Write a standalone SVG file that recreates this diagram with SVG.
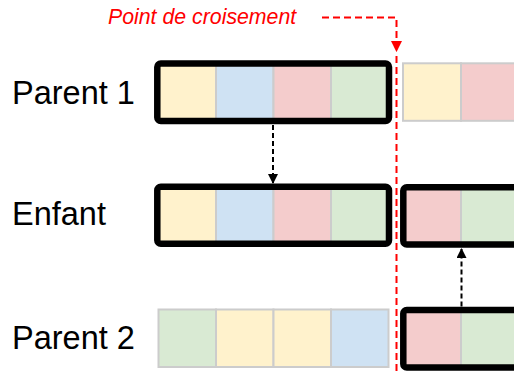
<svg xmlns="http://www.w3.org/2000/svg" width="514" height="372" viewBox="0 0 514 372">
  <defs>
    <style>
      .lbl { font-family: "Liberation Sans", Arial, sans-serif; font-size: 32.5px; fill: #000; }
      .cross { font-family: "Liberation Sans", Arial, sans-serif; font-size: 21.3px; font-style: italic; fill: #ff0000; }
      .cell { stroke: #cccccc; stroke-width: 2; }
      .y { fill: #fff2cc; }
      .b { fill: #cfe2f3; }
      .r { fill: #f4cccc; }
      .g { fill: #d9ead3; }
      .sel { fill: none; stroke: #000; stroke-width: 6.5; }
      .blk { fill: none; stroke: #000; stroke-width: 2; stroke-dasharray: 5 3; }
      .red { fill: none; stroke: #ff0000; stroke-width: 2; stroke-dasharray: 7 4; }
    </style>
    <marker id="ahb" viewBox="0 0 10 10" refX="9" refY="5" markerWidth="5" markerHeight="5" orient="auto" markerUnits="strokeWidth">
      <path d="M0,0 L10,5 L0,10 Z" fill="#000"/>
    </marker>
    <marker id="ahr" viewBox="0 0 10 10" refX="9" refY="5" markerWidth="5.5" markerHeight="5.5" orient="auto" markerUnits="strokeWidth">
      <path d="M0,0 L10,5 L0,10 Z" fill="#ff0000"/>
    </marker>
  </defs>
  <rect width="514" height="372" fill="#fff"/>

  <g id="labels">
    <text class="lbl" x="12" y="104">Parent 1</text>
    <text class="lbl" x="12" y="225">Enfant</text>
    <text class="lbl" x="12" y="349">Parent 2</text>
  </g>

  <g id="parent1-head">
    <rect class="cell y" x="158.5" y="63.3" width="57.5" height="57.5"/>
    <rect class="cell b" x="216" y="63.3" width="57.5" height="57.5"/>
    <rect class="cell r" x="273.5" y="63.3" width="57.5" height="57.5"/>
    <rect class="cell g" x="331" y="63.3" width="57.5" height="57.5"/>
    <rect class="sel" x="157.3" y="63.5" width="231.7" height="57.5" rx="3.5"/>
  </g>
  <g id="parent1-tail">
    <rect class="cell y" x="403" y="63.3" width="58" height="57.5"/>
    <rect class="cell r" x="461" y="63.3" width="58" height="57.5"/>
  </g>

  <g id="enfant-head">
    <rect class="cell y" x="158.5" y="186.8" width="57.5" height="57.5"/>
    <rect class="cell b" x="216" y="186.8" width="57.5" height="57.5"/>
    <rect class="cell r" x="273.5" y="186.8" width="57.5" height="57.5"/>
    <rect class="cell g" x="331" y="186.8" width="57.5" height="57.5"/>
    <rect class="sel" x="157.3" y="186.8" width="231.7" height="57" rx="3.5"/>
  </g>
  <g id="enfant-tail">
    <rect class="cell r" x="403" y="187" width="58" height="57.5"/>
    <rect class="cell g" x="461" y="187" width="58" height="57.5"/>
    <rect class="sel" x="403.3" y="187.3" width="140" height="57.2" rx="3.5"/>
  </g>

  <g id="parent2-head">
    <rect class="cell g" x="158.5" y="309.5" width="57.5" height="57.5"/>
    <rect class="cell y" x="216" y="309.5" width="57.5" height="57.5"/>
    <rect class="cell y" x="273.5" y="309.5" width="57.5" height="57.5"/>
    <rect class="cell b" x="331" y="309.5" width="57.5" height="57.5"/>
  </g>
  <g id="parent2-tail">
    <rect class="cell r" x="403" y="310" width="58" height="57.5"/>
    <rect class="cell g" x="461" y="310" width="58" height="57.5"/>
    <rect class="sel" x="403.3" y="310" width="140" height="57.5" rx="3.5"/>
  </g>

  <g id="crossover-label">
    <text class="cross" x="108" y="24">Point de croisement</text>
  </g>

  <g id="connectors">
    <path class="blk" d="M273,125 V183" marker-end="url(#ahb)"/>
    <path class="blk" d="M461.5,306.5 V249" marker-end="url(#ahb)"/>
    <path class="red" d="M322,17.5 H396.5 V51" marker-end="url(#ahr)"/>
    <path class="red" d="M396.5,56 V372"/>
  </g>
</svg>
